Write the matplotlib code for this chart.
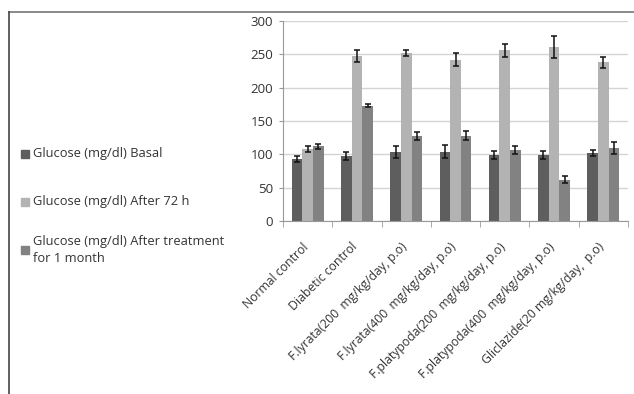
import numpy as np
import matplotlib.pyplot as plt
import matplotlib.transforms as mtransforms
from matplotlib.lines import Line2D
from matplotlib.patches import Rectangle

plt.rcParams['font.family'] = ['Open Sans', 'DejaVu Sans']

groups = ['Normal control', 'Diabetic control',
          'F.lyrata(200  mg/kg/day, p.o)', 'F.lyrata(400  mg/kg/day, p.o)',
          'F.platypoda(200  mg/kg/day, p.o)', 'F.platypoda(400  mg/kg/day, p.o)',
          'Gliclazide(20 mg/kg/day,  p.o)']

basal = [93, 98, 103, 104, 99, 99, 102]
basal_err = [5, 6, 9, 10, 6, 6, 5]
after72 = [108, 247, 252, 242, 256, 261, 238]
after72_err = [5, 9, 4, 10, 10, 17, 8]
treated = [112, 173, 127, 128, 107, 62, 109]
treated_err = [4, 2, 6, 7, 6, 5, 9]

series_labels = ['Glucose (mg/dl) Basal', 'Glucose (mg/dl) After 72 h',
                 'Glucose (mg/dl) After treatment\nfor 1 month']
colors = ['#5e5e5e', '#b3b3b3', '#828282']

fig = plt.figure(figsize=(6.34, 3.94), dpi=100)
ax = fig.add_axes([283 / 634, 1 - 221 / 394, 345 / 634, 200 / 394])

x = np.arange(len(groups))
w = 0.215
for k, (vals, errs) in enumerate([(basal, basal_err), (after72, after72_err), (treated, treated_err)]):
    ax.bar(x + (k - 1) * w, vals, w, color=colors[k], zorder=2,
           yerr=errs, capsize=2.5, error_kw=dict(ecolor='#111111', elinewidth=1.1, capthick=1.1))

ax.set_xlim(-0.5, len(groups) - 0.5)
ax.set_ylim(0, 300)
ax.set_yticks(np.arange(0, 301, 50))
ax.yaxis.grid(True, color='#d4d4d4', linewidth=1, zorder=0)
ax.set_axisbelow(True)

ax.set_xticks(x)
ax.set_xticklabels(groups, rotation=45, ha='right', va='top', rotation_mode='anchor', fontsize=8.8, color='#333333')
ax.tick_params(axis='x', which='major', length=0, pad=14)
# nudge labels a little to the left, as in the original
shift = mtransforms.ScaledTranslation(-6 / 100, 0, fig.dpi_scale_trans)
for lbl in ax.get_xticklabels():
    lbl.set_transform(lbl.get_transform() + shift)
ax.set_xticks(np.arange(-0.5, len(groups), 1), minor=True)
ax.tick_params(axis='x', which='minor', length=4, color='#999999')
ax.tick_params(axis='y', length=3, color='#999999', labelsize=9.5, labelcolor='#333333', pad=4)

for s in ['top', 'right']:
    ax.spines[s].set_visible(False)
for s in ['left', 'bottom']:
    ax.spines[s].set_color('#999999')

# legend on the left
legend_y = [154, 202, 250]
for lab, col, yy in zip(series_labels, colors, legend_y):
    fig.patches.append(Rectangle((21 / 634, 1 - (yy + 4) / 394), 8 / 634, 8 / 394,
                                 transform=fig.transFigure, color=col))
    fig.text(33 / 634, 1 - yy / 394, lab, fontsize=9.3, color='#333333', va='center', ha='left',
             linespacing=1.3)

# outer frame lines
fig.add_artist(Line2D([9 / 634, 1], [1 - 12 / 394, 1 - 12 / 394], transform=fig.transFigure, color='#777777', lw=1.2))
fig.add_artist(Line2D([9 / 634, 9 / 634], [0, 1 - 12 / 394], transform=fig.transFigure, color='#444444', lw=1.2))

fig.savefig('out.png', dpi=100)
